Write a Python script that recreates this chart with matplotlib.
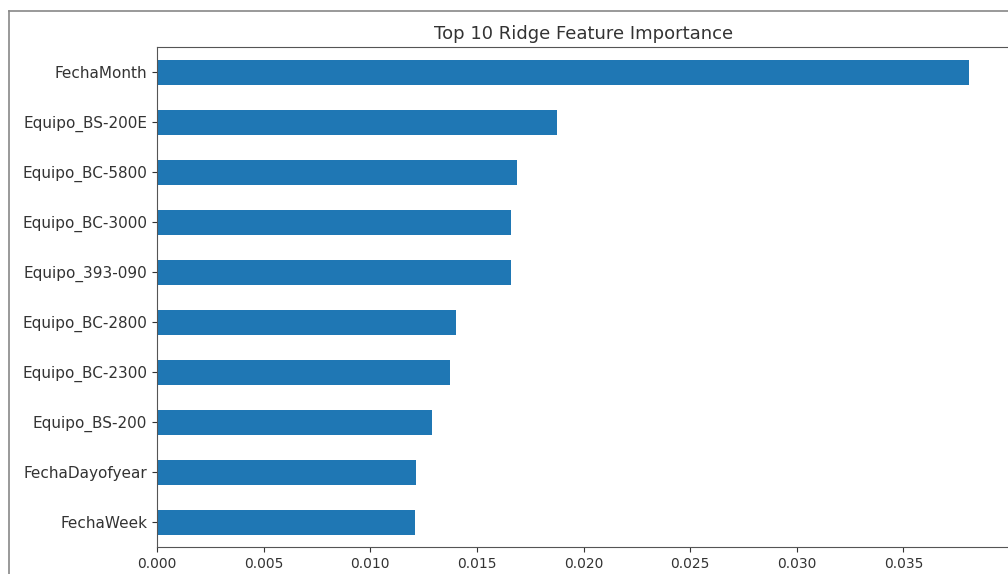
import matplotlib
matplotlib.use("Agg")
import matplotlib.pyplot as plt
from matplotlib.lines import Line2D
import pandas as pd

# Top 10 Ridge feature importance (abs coefficients)
features = [
    "FechaWeek",
    "FechaDayofyear",
    "Equipo_BS-200",
    "Equipo_BC-2300",
    "Equipo_BC-2800",
    "Equipo_393-090",
    "Equipo_BC-3000",
    "Equipo_BC-5800",
    "Equipo_BS-200E",
    "FechaMonth",
]
importance = [0.01209, 0.01214, 0.01290, 0.01374, 0.01404,
              0.01659, 0.01662, 0.01688, 0.01876, 0.03810]

imp = pd.Series(importance, index=features)

fig = plt.figure(figsize=(10.08, 5.74), dpi=100)
# axes runs a little past the right edge, as in the cropped screenshot
ax = fig.add_axes([157 / 1008, 1 - 547 / 574, (1010 - 157) / 1008, 500 / 574])

imp.plot(kind="barh", ax=ax, color="#1f77b4", width=0.5)
ax.set_xlim(0, 0.0400)
ax.set_xticks([0.0, 0.005, 0.010, 0.015, 0.020, 0.025, 0.030, 0.035])
ax.set_xticklabels(["0.000", "0.005", "0.010", "0.015", "0.020",
                    "0.025", "0.030", "0.035"])
ax.tick_params(axis="x", labelsize=10, colors="#333333")
ax.tick_params(axis="y", labelsize=11, colors="#333333")
ax.set_title("Top 10 Ridge Feature Importance", fontsize=13, color="#333333", pad=6)
for s in ax.spines.values():
    s.set_color("#555555")

# frame of the notebook output cell
fig.add_artist(Line2D([9 / 1008, 9 / 1008], [0, 1 - 11 / 574], color="#888888", lw=1.2))
fig.add_artist(Line2D([9 / 1008, 1], [1 - 11 / 574, 1 - 11 / 574], color="#888888", lw=1.2))

fig.savefig("out.png", dpi=100)
